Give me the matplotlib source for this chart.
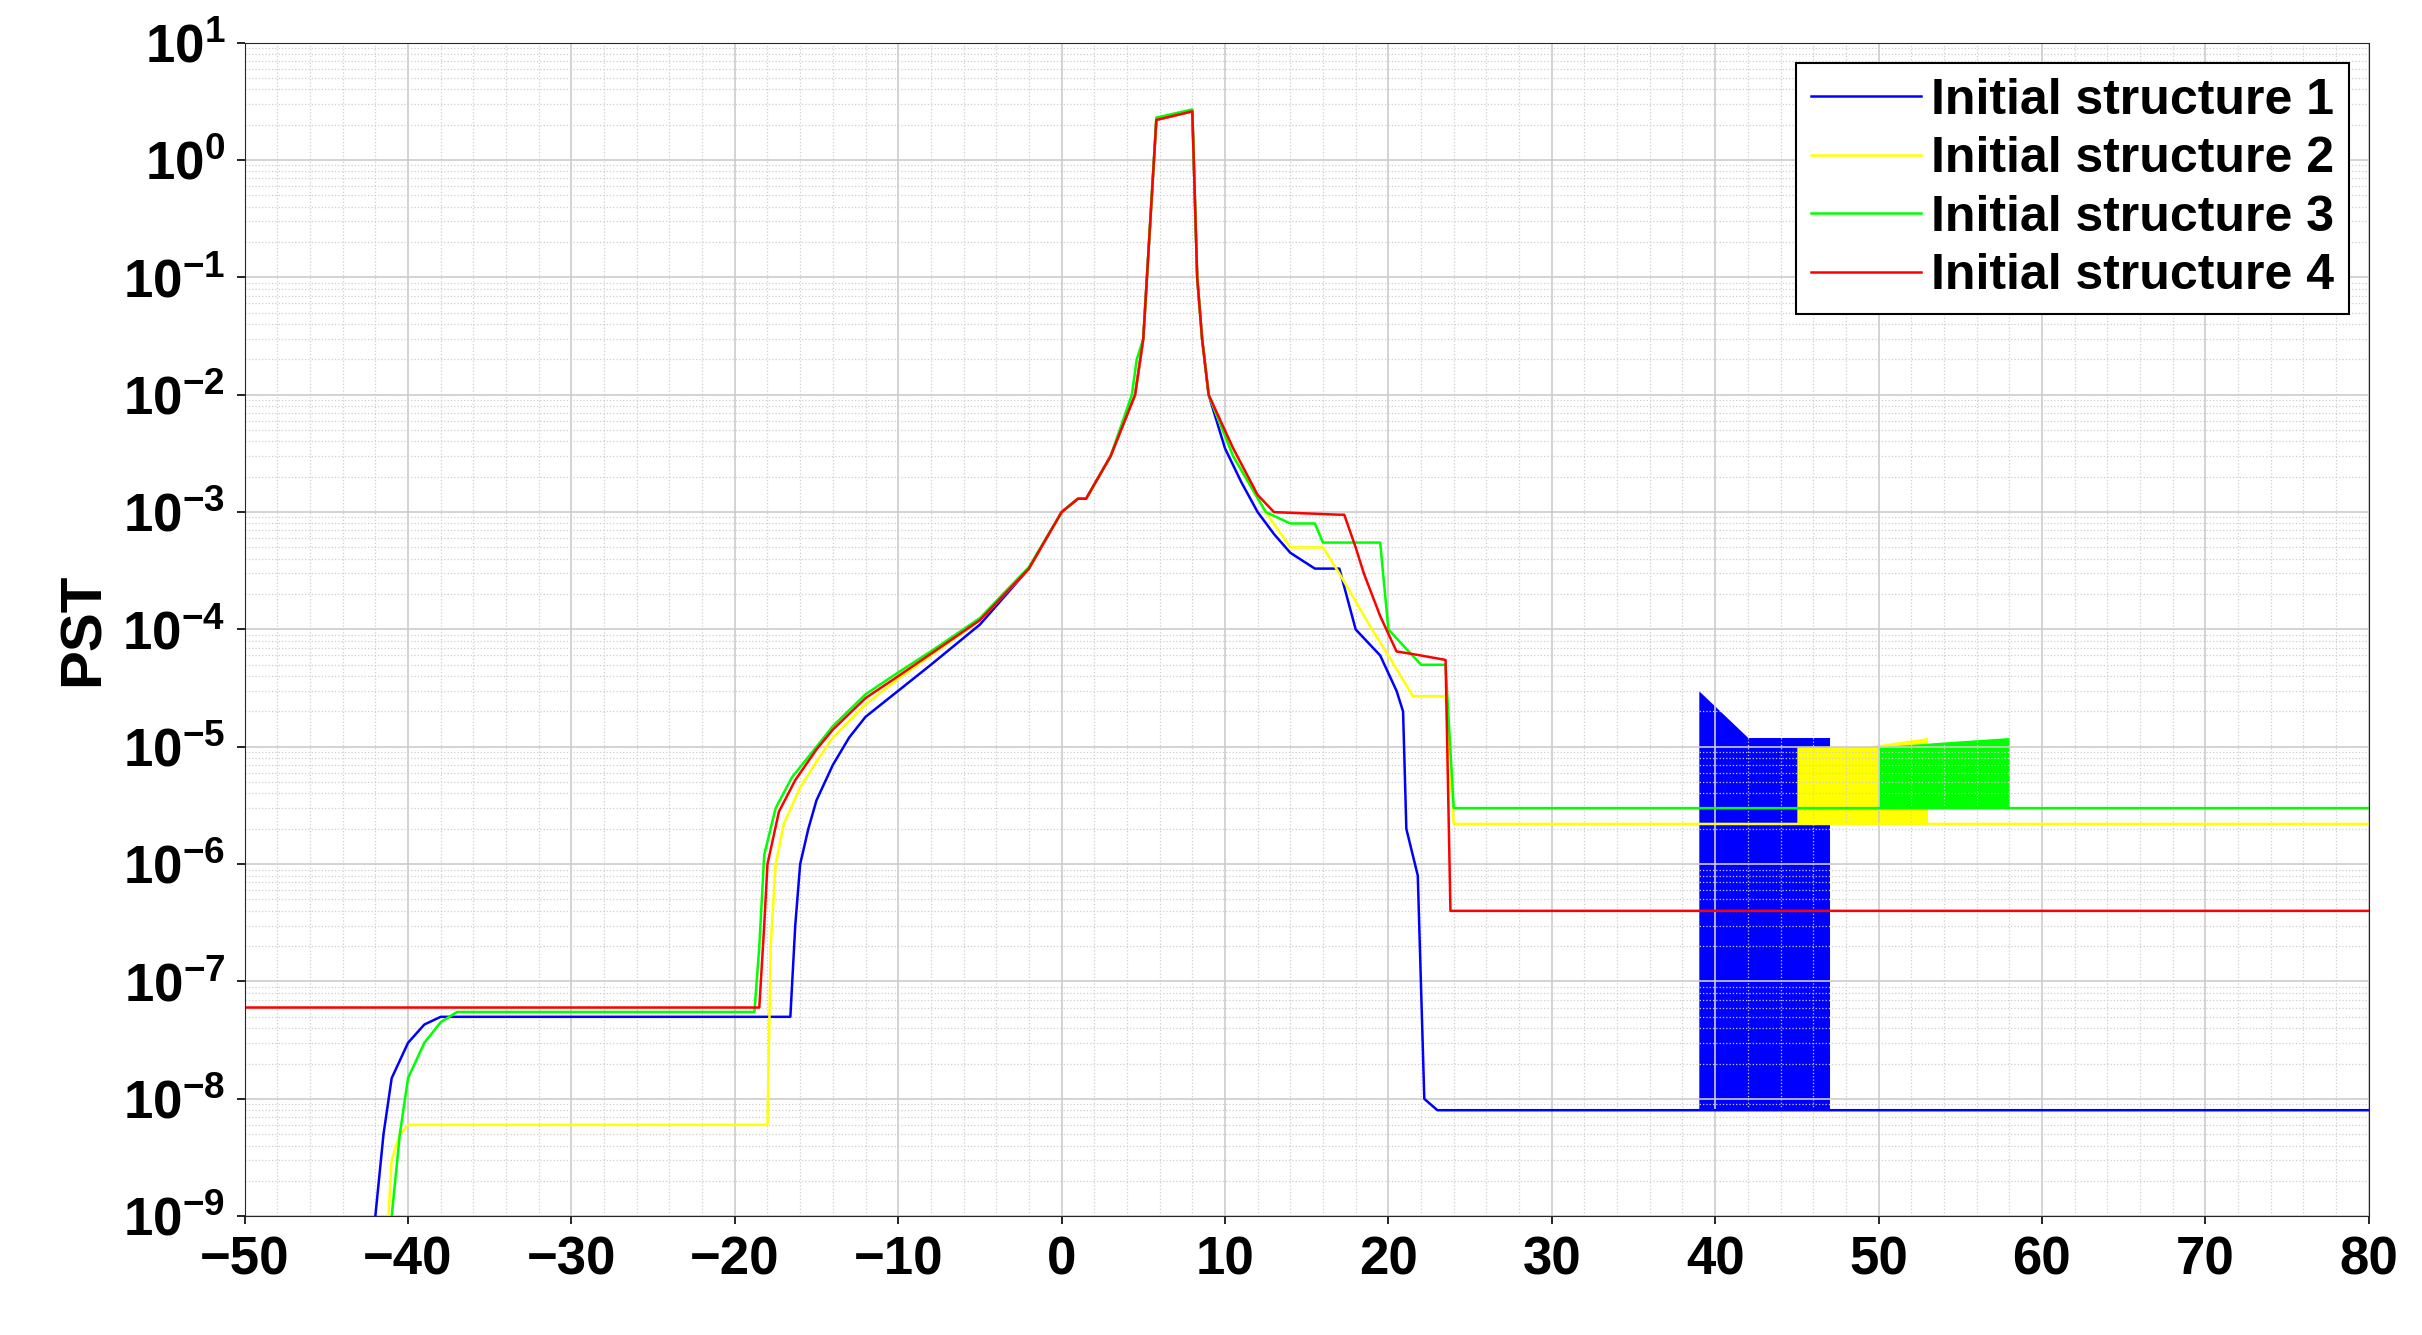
import matplotlib
matplotlib.use("Agg")
import matplotlib.pyplot as plt
from matplotlib.ticker import LogLocator, MultipleLocator, NullFormatter

plt.rcParams['font.family'] = ['Liberation Sans', 'DejaVu Sans']

x1 = [-42, -41.5, -41, -40, -39, -38, -17, -16.6, -16.3, -16, -15.5, -15, -14, -13, -12, -10, -8, -5, -2, 0, 1, 1.5, 3, 4.5, 5, 5.8, 8, 8.3, 8.6, 9, 10, 11, 12, 13, 14, 15.5, 17, 18, 19.5, 20.5, 20.9, 21.1, 21.8, 22.2, 23, 80]
y1 = [1e-9, 5e-9, 1.5e-8, 3e-8, 4.3e-8, 5e-8, 5e-8, 5e-8, 3e-7, 1e-6, 2e-6, 3.5e-6, 7e-6, 1.2e-5, 1.8e-5, 3e-5, 5e-5, 1.1e-4, 3.3e-4, 1e-3, 1.3e-3, 1.3e-3, 3e-3, 1e-2, 3e-2, 2.2, 2.6, 1e-1, 3e-2, 1e-2, 3.5e-3, 1.8e-3, 1e-3, 6.5e-4, 4.5e-4, 3.3e-4, 3.3e-4, 1e-4, 6e-5, 3e-5, 2e-5, 2e-6, 8e-7, 1e-8, 8e-9, 8e-9]

x2 = [-41.2, -41, -40.5, -40, -18, -17.8, -17.5, -17, -16, -15, -14, -12, -10, -8, -5, -2, 0, 1, 1.5, 3, 4.5, 5, 5.8, 8, 8.3, 8.6, 9, 10.5, 12.5, 14, 16, 17, 19, 20, 21.5, 23.5, 24, 80]
y2 = [1e-9, 3e-9, 5e-9, 6e-9, 6e-9, 2e-7, 1e-6, 2.2e-6, 4.5e-6, 7.5e-6, 1.2e-5, 2.3e-5, 3.8e-5, 6e-5, 1.2e-4, 3.3e-4, 1e-3, 1.3e-3, 1.3e-3, 3e-3, 1e-2, 3e-2, 2.2, 2.6, 1e-1, 3e-2, 1e-2, 3e-3, 1e-3, 5e-4, 5e-4, 3e-4, 1e-4, 6e-5, 2.7e-5, 2.7e-5, 2.2e-6, 2.2e-6]

x3 = [-41, -40.5, -40, -39, -38, -37, -18.8, -18.5, -18.2, -17.5, -16.5, -15, -14, -12, -10, -8, -5, -2, 0, 1, 1.5, 3, 4.3, 4.6, 5, 5.8, 8, 8.3, 8.6, 9, 10.5, 12.5, 14, 15.5, 16, 19.5, 20, 22, 23.5, 24, 80]
y3 = [1e-9, 5e-9, 1.5e-8, 3e-8, 4.5e-8, 5.5e-8, 5.5e-8, 2e-7, 1.2e-6, 3e-6, 5.5e-6, 1e-5, 1.5e-5, 2.8e-5, 4.3e-5, 6.5e-5, 1.25e-4, 3.4e-4, 1e-3, 1.3e-3, 1.3e-3, 3e-3, 1e-2, 2e-2, 3e-2, 2.3, 2.7, 1e-1, 3e-2, 1e-2, 3e-3, 1e-3, 8e-4, 8e-4, 5.5e-4, 5.5e-4, 1e-4, 5e-5, 5e-5, 3e-6, 3e-6]

x4 = [-50, -18.5, -18.2, -18, -17.3, -16.3, -15, -14, -12, -10, -8, -5, -2, 0, 1, 1.5, 3, 4.5, 5, 5.8, 8, 8.3, 8.6, 9, 10.5, 12, 13, 17, 17.3, 18, 18.5, 19.5, 20.5, 22, 23.5, 23.8, 80]
y4 = [6e-8, 6e-8, 3e-7, 1e-6, 2.8e-6, 5.2e-6, 9.5e-6, 1.4e-5, 2.6e-5, 4e-5, 6.2e-5, 1.2e-4, 3.3e-4, 1e-3, 1.3e-3, 1.3e-3, 3e-3, 1e-2, 3e-2, 2.2, 2.6, 1e-1, 3e-2, 1e-2, 3.5e-3, 1.4e-3, 1e-3, 9.5e-4, 9.5e-4, 5e-4, 3e-4, 1.3e-4, 6.5e-5, 6e-5, 5.5e-5, 4e-7, 4e-7]

# dense oscillation bands
fb_x = [39, 42, 47]; fb_lo = [8e-9, 8e-9, 8e-9]; fb_hi = [3e-5, 1.2e-5, 1.2e-5]
fy_x = [45, 49, 53]; fy_lo = [2.2e-6, 2.2e-6, 2.2e-6]; fy_hi = [1e-5, 1e-5, 1.2e-5]
fg_x = [50, 54, 58]; fg_lo = [3e-6, 3e-6, 3e-6]; fg_hi = [1e-5, 1.1e-5, 1.2e-5]

labels = ["Initial structure 1", "Initial structure 2", "Initial structure 3", "Initial structure 4"]
colors = ["#0000ff", "#ffff00", "#00ff00", "#ff0000"]

fig = plt.figure(figsize=(24.22, 13.35), dpi=100)
ax = fig.add_axes([0.101, 0.089, 0.877, 0.879])
ax.fill_between(fb_x, fb_lo, fb_hi, color=colors[0], lw=0)
ax.fill_between(fy_x, fy_lo, fy_hi, color=colors[1], lw=0)
ax.fill_between(fg_x, fg_lo, fg_hi, color=colors[2], lw=0)
for xs, ys, c, l in zip([x1, x2, x3, x4], [y1, y2, y3, y4], colors, labels):
    ax.plot(xs, ys, color=c, lw=1.8, label=l)
ax.set_yscale("log")
ax.set_xlim(-50, 80)
ax.set_ylim(1e-9, 10)
ax.set_xticks(range(-50, 81, 10))
ax.set_yticks([10.0**k for k in range(-9, 2)])
ax.yaxis.set_minor_locator(LogLocator(base=10, subs=range(2, 10), numticks=30))
ax.yaxis.set_minor_formatter(NullFormatter())
ax.xaxis.set_minor_locator(MultipleLocator(2))
ax.grid(True, which="major", color="#cccccc", lw=1.2)
ax.grid(True, which="minor", color="#cfcfcf", lw=0.9, ls=":")
ax.tick_params(which="major", labelsize=38, width=1.2, length=6, pad=8)
ax.tick_params(which="minor", length=0)
for t in ax.get_xticklabels() + ax.get_yticklabels():
    t.set_fontweight("bold")
ax.set_ylabel("PST", fontsize=42, fontweight="bold", labelpad=8)
for s in ax.spines.values():
    s.set_color("#262626")
leg = ax.legend(loc="upper right", prop={"weight": "bold", "size": 36},
                fancybox=False, edgecolor="black", framealpha=1, handlelength=2.2,
                handletextpad=0.2, borderaxespad=0.4, labelspacing=0.25,
                borderpad=0.3)
leg.get_frame().set_linewidth(1.5)
fig.savefig("out.png", dpi=100)
